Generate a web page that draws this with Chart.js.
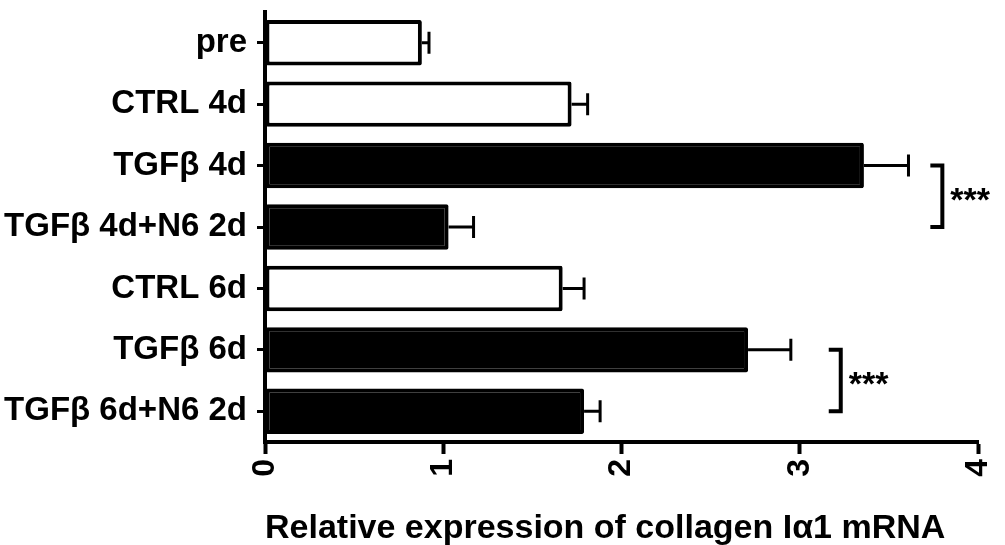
<!DOCTYPE html>
<html>
<head>
<meta charset="utf-8">
<script src="https://cdn.jsdelivr.net/npm/chart.js@4"></script>
<style>
  html, body { margin: 0; padding: 0; background: #fff; }
</style>
</head>
<body>
<canvas id="myChart" width="1005" height="545"></canvas>
<script>
// groups, top to bottom
var labels = ['pre', 'CTRL 4d', 'TGFβ 4d', 'TGFβ 4d+N6 2d', 'CTRL 6d', 'TGFβ 6d', 'TGFβ 6d+N6 2d'];
var values = [0.88, 1.72, 3.36, 1.03, 1.67, 2.71, 1.79];
var errors = [0.04, 0.09, 0.25, 0.14, 0.12, 0.24, 0.09]; // upper SEM only
var treated = [false, false, true, true, false, true, true]; // black fill = TGFβ
var xTicks = [0, 1, 2, 3, 4];
// significance brackets: [from group, to group, x position, mark]
var sigPairs = [[2, 3, 3.80, '***'], [5, 6, 3.23, '***']];

var FONT = "'Liberation Sans', Arial, Helvetica, sans-serif";

var errorBars = {
  id: 'errorBars',
  afterDatasetsDraw: function(chart) {
    var ctx = chart.ctx, x = chart.scales.x, y = chart.scales.y;
    ctx.save();
    ctx.strokeStyle = '#000';
    ctx.lineWidth = 3;
    values.forEach(function(v, i) {
      var yc = y.getPixelForValue(i);
      var x0 = x.getPixelForValue(v);
      var x1 = x.getPixelForValue(v + errors[i]);
      ctx.beginPath();
      ctx.moveTo(x0, yc);
      ctx.lineTo(x1, yc);
      ctx.moveTo(x1, yc - 11);
      ctx.lineTo(x1, yc + 11);
      ctx.stroke();
    });

    // brackets with stars
    ctx.lineWidth = 4;
    ctx.lineCap = 'square';
    ctx.fillStyle = '#000';
    ctx.font = 'bold 34px ' + FONT;
    ctx.textBaseline = 'middle';
    ctx.textAlign = 'left';
    sigPairs.forEach(function(p) {
      var ya = y.getPixelForValue(p[0]);
      var yb = y.getPixelForValue(p[1]);
      var xb = x.getPixelForValue(p[2]);
      ctx.beginPath();
      ctx.moveTo(xb - 10, ya);
      ctx.lineTo(xb, ya);
      ctx.lineTo(xb, yb);
      ctx.lineTo(xb - 10, yb);
      ctx.stroke();
      ctx.fillText(p[3], xb + 8, (ya + yb) / 2 + 5);
    });
    ctx.restore();
  }
};

var ctx = document.getElementById('myChart').getContext('2d');
var myChart = new Chart(ctx, {
  type: 'bar',
  data: {
    labels: labels,
    datasets: [{
      data: values,
      backgroundColor: treated.map(function(t) { return t ? '#000' : '#fff'; }),
      borderColor: '#000',
      borderWidth: 4,
      borderSkipped: false,
      borderRadius: 2,
      barPercentage: 0.74,
      categoryPercentage: 1
    }]
  },
  options: {
    indexAxis: 'y',
    responsive: false,
    animation: false,
    layout: {
      padding: { left: 0, right: 27, top: 12, bottom: 0 }
    },
    plugins: {
      legend: { display: false },
      tooltip: { enabled: false }
    },
    scales: {
      x: {
        min: 0,
        max: 4,
        afterBuildTicks: function(scale) {
          scale.ticks = xTicks.map(function(v) { return { value: v }; });
        },
        afterFit: function(scale) {
          scale.height = 103;
          scale.paddingLeft = 0;
          scale.paddingRight = 0;
        },
        grid: {
          drawOnChartArea: false,
          drawTicks: true,
          tickLength: 12,
          tickWidth: 4,
          tickColor: '#000'
        },
        border: { display: true, color: '#000', width: 4 },
        ticks: {
          color: '#000',
          minRotation: 90,
          maxRotation: 90,
          padding: 5,
          font: { family: FONT, size: 32, weight: 'bold' }
        },
        title: {
          display: true,
          text: 'Relative expression of collagen Iα1 mRNA',
          color: '#000',
          align: 'start',
          padding: { top: 0, bottom: -4 },
          font: { family: FONT, size: 34, weight: 'bold' }
        }
      },
      y: {
        afterFit: function(scale) {
          scale.width = 265;
          scale.paddingTop = 0;
          scale.paddingBottom = 0;
        },
        grid: {
          offset: false,
          drawOnChartArea: false,
          drawTicks: true,
          tickLength: 8,
          tickWidth: 3,
          tickColor: '#000'
        },
        border: { display: true, color: '#000', width: 4 },
        ticks: {
          color: '#000',
          padding: 10,
          font: { family: FONT, size: 33, weight: 'bold' }
        }
      }
    }
  },
  plugins: [errorBars]
});
</script>
</body>
</html>
